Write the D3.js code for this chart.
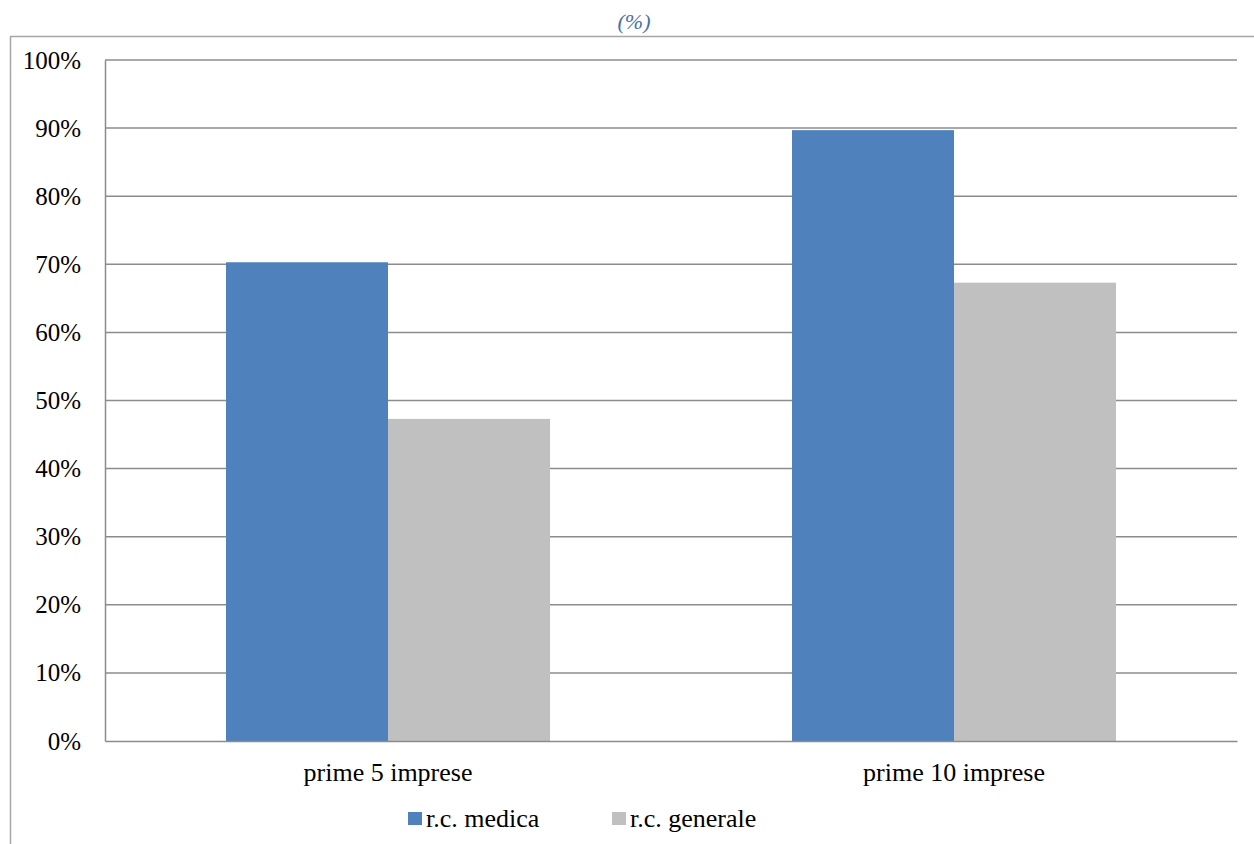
<!DOCTYPE html>
<html>
<head>
<meta charset="utf-8">
<script src="https://cdn.jsdelivr.net/npm/d3@7"></script>
</head>
<body style="margin:0; background:#fff">
<svg id="chart" width="1254" height="844" font-family="Liberation Serif" style="display:block"></svg>
<script>
// Concentration shares (%) for the top insurers
const categories = ["prime 5 imprese", "prime 10 imprese"];
const seriesNames = ["r.c. medica", "r.c. generale"];
const medica = [70.3, 89.7];
const generale = [47.3, 67.3];
const seriesColors = ["#4f81bd", "#c0c0c0"];
const yTicks = [0, 10, 20, 30, 40, 50, 60, 70, 80, 90, 100];

const FONT = "'Liberation Serif'";

const svg = d3.select("#chart");
const W = 1254, H = 844;
const margin = { left: 105, right: 17, top: 60, bottom: 103 };
const plotW = W - margin.left - margin.right;
const plotH = H - margin.top - margin.bottom;

// Outer chart frame
svg.append("rect")
  .attr("x", 10.5).attr("y", 36.5)
  .attr("width", W + 10).attr("height", H + 10)
  .attr("fill", "none").attr("stroke", "#a6a6a6").attr("stroke-width", 1.5);

// Title
svg.append("text")
  .attr("x", 634).attr("y", 29)
  .attr("text-anchor", "middle")
  .attr("font-family", "Liberation Serif")
  .style("font-family", FONT)
  .style("font-style", "italic")
  .style("font-size", "22px")
  .style("fill", "#4a6fa5")
  .text("(%)");

const g = svg.append("g").attr("transform", `translate(${margin.left},${margin.top})`);

const x0 = d3.scaleBand().domain(categories).range([0, plotW]).paddingInner(0).paddingOuter(0);
const groupPad = 121;
const x1 = d3.scaleBand().domain(seriesNames)
  .range([groupPad, x0.bandwidth() - groupPad]).padding(0);
const y = d3.scaleLinear().domain([0, 100]).range([plotH, 0]);

// Horizontal gridlines
g.append("g")
  .selectAll("line")
  .data(yTicks.filter(d => d > 0))
  .join("line")
  .attr("x1", 0).attr("x2", plotW)
  .attr("y1", d => y(d)).attr("y2", d => y(d))
  .attr("stroke", "#8c8c8c").attr("stroke-width", 1.5);

// Bars
const data = categories.map((c, i) => ({ cat: c, values: [medica[i], generale[i]] }));
const groups = g.selectAll("g.cat")
  .data(data)
  .join("g")
  .attr("class", "cat")
  .attr("transform", d => `translate(${x0(d.cat)},0)`);

groups.selectAll("rect")
  .data(d => d.values.map((v, j) => ({ name: seriesNames[j], v, j })))
  .join("rect")
  .attr("x", d => x1(d.name))
  .attr("width", x1.bandwidth())
  .attr("y", d => y(d.v))
  .attr("height", d => plotH - y(d.v))
  .attr("fill", d => seriesColors[d.j]);

// Y axis
const yAxis = g.append("g")
  .call(d3.axisLeft(y).tickValues(yTicks).tickFormat(d => d + "%").tickSize(0).tickPadding(24));
yAxis.attr("font-family", "Liberation Serif").attr("font-size", 25);
yAxis.select(".domain").attr("stroke", "#8c8c8c").attr("stroke-width", 1.5);
yAxis.selectAll("text")
  .style("font-family", FONT)
  .style("font-size", "25px")
  .style("fill", "#000")
  .attr("dy", "0.32em");

// X axis
const xAxis = g.append("g")
  .attr("transform", `translate(0,${plotH})`)
  .call(d3.axisBottom(x0).tickSize(0).tickPadding(22));
xAxis.attr("font-family", "Liberation Serif").attr("font-size", 26);
xAxis.select(".domain").attr("stroke", "#8c8c8c").attr("stroke-width", 1.5);
xAxis.selectAll("text")
  .style("font-family", FONT)
  .style("font-size", "26px")
  .style("fill", "#000");

// Legend
const legendItems = [
  { name: seriesNames[0], color: seriesColors[0], x: 408 },
  { name: seriesNames[1], color: seriesColors[1], x: 612 }
];
const legend = svg.append("g");
legend.selectAll("rect")
  .data(legendItems)
  .join("rect")
  .attr("x", d => d.x).attr("y", 812)
  .attr("width", 14).attr("height", 13)
  .attr("fill", d => d.color);
legend.selectAll("text")
  .data(legendItems)
  .join("text")
  .attr("x", d => d.x + 18).attr("y", 827)
  .style("font-family", FONT)
  .style("font-size", "26px")
  .style("fill", "#000")
  .text(d => d.name);
</script>
</body>
</html>
